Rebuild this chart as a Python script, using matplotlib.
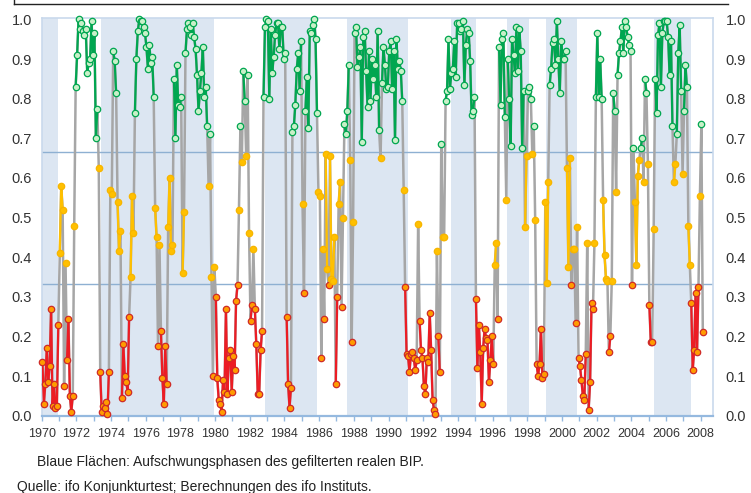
import numpy as np
import matplotlib.pyplot as plt
from matplotlib.lines import Line2D

plt.rcParams["font.family"] = ["Liberation Sans", "DejaVu Sans"]

# monthly probabilities, Jan 1970 .. Feb 2008
start_year = 1970
p_1970s = [
    0.135, 0.03, 0.08, 0.17, 0.085, 0.125, 0.27, 0.025, 0.08, 0.02, 0.025, 0.23,
    0.41, 0.58, 0.52, 0.075, 0.385, 0.14, 0.245, 0.05, 0.01, 0.05, 0.48, 0.83,
    0.91, 1.0, 0.975, 0.99, 0.97, 0.96, 0.975, 0.865, 0.89, 0.9, 0.995, 0.91,
    0.965, 0.70, 0.775, 0.625, 0.11, 0.01, 0.025, 0.02, 0.035, 0.005, 0.11, 0.57,
    0.56, 0.92, 0.895, 0.815, 0.54, 0.415, 0.465, 0.045, 0.18, 0.10, 0.085, 0.06,
    0.25, 0.35, 0.555, 0.46, 0.765, 0.90, 0.97, 1.0, 0.995, 0.995, 0.98, 0.965,
    0.93, 0.875, 0.935, 0.89, 0.905, 0.805, 0.525, 0.45, 0.175, 0.43, 0.215, 0.095,
    0.03, 0.175, 0.08, 0.475, 0.60, 0.415, 0.43, 0.85, 0.70, 0.885, 0.785, 0.78,
    0.805, 0.36, 0.515, 0.915, 0.975, 0.99, 0.98, 0.96, 0.99, 0.955, 0.925, 0.86,
    0.77, 0.82, 0.865, 0.93, 0.805, 0.83, 0.73, 0.58, 0.71, 0.35, 0.10, 0.375,
]
p_1980s = [
    0.30, 0.095, 0.04, 0.03, 0.01, 0.09, 0.06, 0.27, 0.055, 0.145, 0.165, 0.06,
    0.15, 0.115, 0.29, 0.33, 0.52, 0.73, 0.64, 0.87, 0.795, 0.655, 0.86, 0.46,
    0.24, 0.28, 0.42, 0.27, 0.18, 0.055, 0.055, 0.165, 0.215, 0.805, 0.98, 1.0,
    0.995, 0.80, 0.975, 0.865, 0.905, 0.96, 0.99, 0.99, 0.925, 0.98, 0.98, 0.90,
    0.915, 0.25, 0.08, 0.02, 0.07, 0.715, 0.73, 0.785, 0.875, 0.915, 0.82, 0.945,
    0.535, 0.31, 0.77, 0.855, 0.725, 0.97, 0.965, 0.985, 1.0, 0.95, 0.765, 0.565,
    0.555, 0.145, 0.42, 0.245, 0.66, 0.37, 0.33, 0.655, 0.345, 0.34, 0.45, 0.08,
    0.30, 0.535, 0.59, 0.275, 0.50, 0.735, 0.71, 0.77, 0.885, 0.645, 0.185, 0.49,
    0.965, 0.98, 0.88, 0.905, 0.93, 0.69, 0.955, 0.97, 0.87, 0.78, 0.92, 0.795,
    0.90, 0.85, 0.885, 0.805, 0.97, 0.72, 0.65, 0.84, 0.93, 0.885, 0.825, 0.83,
]
p_1990s = [
    0.92, 0.945, 0.825, 0.92, 0.695, 0.95, 0.875, 0.895, 0.87, 0.795, 0.57, 0.325,
    0.155, 0.15, 0.11, 0.155, 0.16, 0.145, 0.115, 0.14, 0.485, 0.24, 0.165, 0.145,
    0.075, 0.055, 0.145, 0.135, 0.26, 0.165, 0.04, 0.015, 0.005, 0.415, 0.20, 0.11,
    0.685, 0.45, 0.45, 0.795, 0.82, 0.95, 0.825, 0.865, 0.875, 0.945, 0.855, 0.99,
    0.99, 0.97, 0.975, 0.995, 0.835, 0.935, 0.975, 0.965, 0.895, 0.76, 0.77, 0.805,
    0.295, 0.12, 0.23, 0.16, 0.03, 0.17, 0.22, 0.195, 0.19, 0.085, 0.14, 0.20,
    0.13, 0.38, 0.435, 0.245, 0.93, 0.785, 0.95, 0.965, 0.755, 0.545, 0.90, 0.80,
    0.68, 0.95, 0.91, 0.865, 0.98, 0.87, 0.975, 0.92, 0.675, 0.82, 0.475, 0.655,
    0.82, 0.83, 0.80, 0.66, 0.73, 0.495, 0.13, 0.10, 0.13, 0.22, 0.095, 0.105,
    0.54, 0.335, 0.59, 0.835, 0.875, 0.94, 0.95, 0.885, 0.995, 0.90, 0.815, 0.945,
]
p_2000s = [
    0.90, 0.90, 0.92, 0.625, 0.375, 0.65, 0.33, 0.42, 0.42, 0.235, 0.475, 0.145,
    0.125, 0.09, 0.05, 0.04, 0.155, 0.435, 0.015, 0.085, 0.285, 0.27, 0.435, 0.805,
    0.965, 0.805, 0.90, 0.80, 0.545, 0.405, 0.345, 0.34, 0.16, 0.20, 0.34, 0.815,
    0.77, 0.565, 0.86, 0.915, 0.945, 0.98, 0.915, 0.995, 0.98, 0.955, 0.935, 0.92,
    0.33, 0.675, 0.54, 0.38, 0.605, 0.645, 0.675, 0.70, 0.59, 0.85, 0.815, 0.635,
    0.28, 0.185, 0.185, 0.47, 0.85, 0.765, 0.96, 0.99, 0.83, 0.965, 0.995, 0.995,
    0.995, 0.955, 0.86, 0.945, 0.73, 0.59, 0.635, 0.71, 0.915, 0.985, 0.82, 0.61,
    0.77, 0.885, 0.83, 0.48, 0.38, 0.285, 0.115, 0.165, 0.31, 0.16, 0.325, 0.555,
    0.735, 0.21,
]

# upswing phases of filtered real GDP (blue areas)
upswing_start = [1970.0, 1973.42, 1982.87, 1987.6, 1993.6, 1996.84, 1999.07, 2005.3]
upswing_end = [1970.96, 1979.95, 1985.85, 1991.1, 1995.07, 1998.1, 2000.87, 2007.42]

low, high = 1 / 3, 2 / 3

values = np.array(p_1970s + p_1980s + p_1990s + p_2000s)
x = start_year + (np.arange(len(values)) + 0.5) / 12
regime = np.where(values < low, 0, np.where(values < high, 1, 2))

fig = plt.figure(figsize=(7.51, 4.93), dpi=100)
ax = fig.add_axes([41.7 / 751, (493 - 415.7) / 493, (713.3 - 41.7) / 751, (415.7 - 17.7) / 493])

for s, e in zip(upswing_start, upswing_end):
    ax.axvspan(s, e, color="#dce6f2", lw=0, zorder=0)

for lvl in (low, high):
    ax.axhline(lvl, color="#8eb0d2", lw=1, zorder=1)

ax.plot(x, values, color="#a6a6a6", lw=1.8, zorder=2)

# red / yellow / green: line colour, marker face, marker edge
styles = [("#ec1c24", "#ff9c00", "#cf2a27"),
          ("#ffc000", "#ffc000", "#f7b500"),
          ("#00a650", "#c8f0c8", "#00a650")]
for r, (lc, fc, ec) in enumerate(styles):
    y = np.where(regime == r, values, np.nan)
    ax.plot(x, y, color=lc, lw=1.6, zorder=3)
    ax.plot(x, y, ls="none", marker="o", ms=4.6, mfc=fc, mec=ec, mew=0.9,
            zorder=4, clip_on=False)

ax.set_xlim(1970, 2008.73)
ax.set_ylim(0, 1.0045)

years = list(range(1970, 2009))
ax.set_xticks(years)
ax.set_xticklabels([str(yr) if yr % 2 == 0 else "" for yr in years])
ax.tick_params(axis="x", direction="out", length=3.8, width=1, color="#95b9df",
               labelsize=9, labelcolor="#333333", pad=5)

yticks = np.round(np.arange(0, 1.01, 0.1), 1)
ax.set_yticks(yticks)
ax.set_yticklabels([f"{v:.1f}" for v in yticks])
ax.tick_params(axis="y", length=0, labelsize=10.5, labelcolor="#333333", pad=7)

sec = ax.secondary_yaxis("right")
sec.set_yticks(yticks)
sec.set_yticklabels([f"{v:.1f}" for v in yticks])
sec.tick_params(axis="y", length=0, labelsize=10.5, labelcolor="#333333", pad=9)
sec.spines["right"].set_visible(False)

for side in ("left", "right", "top"):
    ax.spines[side].set_color("#c9d9ec")
    ax.spines[side].set_linewidth(1.2)
ax.spines["bottom"].set_color("#95b9df")
ax.spines["bottom"].set_linewidth(1.6)

# frame line at the top of the figure
fig.add_artist(Line2D([14 / 751, 728 / 751], [1 - 4 / 493, 1 - 4 / 493],
                      transform=fig.transFigure, color="#222222", lw=1))
fig.add_artist(Line2D([14 / 751, 14 / 751], [1, 1 - 4 / 493],
                      transform=fig.transFigure, color="#222222", lw=1))

fig.text(37.3 / 751, 1 - 461.7 / 493,
         "Blaue Flächen: Aufschwungsphasen des gefilterten realen BIP.",
         va="center", ha="left", fontsize=10, color="#222222")
fig.text(17.3 / 751, 1 - 491.5 / 493,
         "Quelle: ifo Konjunkturtest; Berechnungen des ifo Instituts.",
         va="baseline", ha="left", fontsize=10, color="#222222")

fig.savefig("out.png", dpi=100)
